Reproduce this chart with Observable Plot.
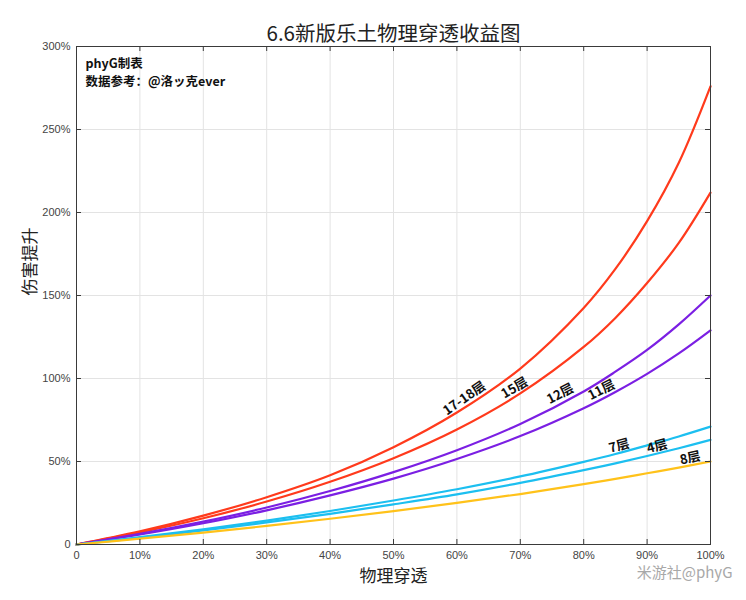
<!DOCTYPE html>
<html><head><meta charset="utf-8">
<script src="https://cdn.jsdelivr.net/npm/d3@7"></script>
<script src="https://cdn.jsdelivr.net/npm/@observablehq/plot@0.6"></script>
<style>body{margin:0;background:#fff}</style>
</head><body><div id="chart"></div>
<script>
// physical penetration (%)
const penetration = [0, 10, 20, 30, 40, 50, 60, 70, 80, 85, 90, 95, 100];
// damage increase (%)
const floor1718 = [0, 7.9, 17.4, 28.5, 41.7, 58.6, 79.5, 106, 142.5, 166, 194.8, 230, 276];
const floor15   = [0, 7.3, 15.8, 25.9, 37.8, 52.0, 69.3, 91, 119, 136.5, 157.5, 181.7, 212];
const floor12   = [0, 6.4, 13.8, 22.3, 32.2, 43.6, 56.8, 72.6, 92.2, 104.1, 117.2, 132.6, 150];
const floor11   = [0, 6.0, 12.8, 20.6, 29.6, 39.7, 51.5, 65.3, 82.1, 91.9, 102.8, 115.1, 129];
const floor7    = [0, 4.4, 9.2, 14.4, 20.2, 26.5, 33.3, 41.0, 49.8, 54.5, 59.7, 65.1, 71];
const floor4    = [0, 4.0, 8.5, 13.3, 18.5, 24.2, 30.2, 37.1, 44.8, 48.9, 53.3, 58.0, 63];
const floor8    = [0, 3.5, 7.2, 11.2, 15.5, 20.1, 25.1, 30.4, 36.4, 39.5, 42.9, 46.3, 50];

const seriesNames  = ["17-18层", "15层", "12层", "11层", "7层", "4层", "8层"];
const seriesValues = [floor1718, floor15, floor12, floor11, floor7, floor4, floor8];
const seriesColors = ["#ff3a1c", "#ff3a1c", "#7b1fe3", "#7b1fe3", "#1cbff0", "#1cbff0", "#ffc21a"];

const xTicks = [0, 10, 20, 30, 40, 50, 60, 70, 80, 90, 100];
const yTicks = [0, 50, 100, 150, 200, 250, 300];

const titleText = "6.6新版乐土物理穿透收益图";
const xLabel = "物理穿透";
const yLabel = "伤害提升";
const noteLines = ["phyG制表", "数据参考：@洛ッ克ever"];
const watermark = "米游社@phyG";

// in-chart curve labels (annotation anchors in data units)
const labelText  = ["17-18层", "15层", "12层", "11层", "7层", "4层", "8层"];
const labelX     = [61.2, 69.1, 76.3, 82.8, 85.6, 91.6, 96.8];
const labelY     = [88, 94.3, 90.7, 93, 59.3, 59, 52];
const labelAngle = [-35, -31, -28, -27, -15, -15, -12];

const W = 746, H = 600, mL = 76, mR = 36, mT = 46, mB = 56;
const iw = W - mL - mR, ih = H - mT - mB;
const fmt = d => d === 0 ? "0" : d + "%";

const rows = seriesNames.flatMap((n, i) => penetration.map((p, j) => ({series: n, x: p, y: seriesValues[i][j]})));
const labels = labelText.map((t, i) => ({t, x: labelX[i], y: labelY[i], a: labelAngle[i]}));
const cjk = "'Noto Sans CJK SC', 'Noto Sans', sans-serif";

const chart = Plot.plot({
  width: W, height: H,
  marginLeft: mL, marginRight: mR, marginTop: mT, marginBottom: mB,
  style: {fontFamily: "'Liberation Sans', Arial, sans-serif", fontSize: "11px", color: "#444", background: "#fff"},
  x: {domain: [0, 100], label: null},
  y: {domain: [0, 300], label: null},
  color: {domain: seriesNames, range: seriesColors},
  marks: [
    Plot.gridX(xTicks, {stroke: "#e3e3e3", strokeOpacity: 1}),
    Plot.gridY(yTicks, {stroke: "#e3e3e3", strokeOpacity: 1}),
    Plot.line(rows, {x: "x", y: "y", z: "series", stroke: "series", strokeWidth: 2.2, curve: "catmull-rom"}),
    Plot.frame({stroke: "#3a3a3a"}),
    Plot.tickX(xTicks, {x: d => d, insetTop: ih - 5, stroke: "#3a3a3a"}),
    Plot.tickX(xTicks, {x: d => d, insetBottom: ih - 5, stroke: "#3a3a3a"}),
    Plot.tickY(yTicks, {y: d => d, insetRight: iw - 5, stroke: "#3a3a3a"}),
    Plot.tickY(yTicks, {y: d => d, insetLeft: iw - 5, stroke: "#3a3a3a"}),
    Plot.axisX(xTicks, {tickSize: 0, tickPadding: 7, tickFormat: fmt, label: null, fill: "#444"}),
    Plot.axisY(yTicks, {tickSize: 0, tickPadding: 6, tickFormat: fmt, label: null, fill: "#444"}),
    Plot.text(labels, {x: "x", y: "y", text: "t", rotate: "a", fontWeight: "bold", fontSize: 13, fill: "#111", fontFamily: cjk}),
    Plot.text([titleText], {frameAnchor: "top", dy: -20, fontSize: 20.5, fill: "#222", fontFamily: cjk}),
    Plot.text([xLabel], {frameAnchor: "bottom", dy: 37, fontSize: 17, fill: "#222", fontFamily: cjk}),
    Plot.text([yLabel], {frameAnchor: "left", dx: -46, rotate: -90, fontSize: 17, fill: "#222", fontFamily: cjk}),
    Plot.text([noteLines[0]], {frameAnchor: "top-left", dx: 9, dy: 13, textAnchor: "start", fontWeight: "bold", fontSize: 12.5, fill: "#111", fontFamily: cjk}),
    Plot.text([noteLines[1]], {frameAnchor: "top-left", dx: 9, dy: 31, textAnchor: "start", fontWeight: "bold", fontSize: 12.5, fill: "#111", fontFamily: cjk}),
    Plot.text([watermark], {frameAnchor: "bottom-right", dx: 22, dy: 33, textAnchor: "end", fontSize: 15, fill: "#a8a8a8", fontFamily: cjk})
  ]
});
document.getElementById("chart").appendChild(chart);
</script>
</body></html>
